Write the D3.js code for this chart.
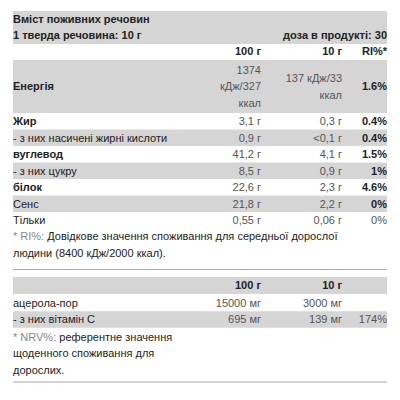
<!DOCTYPE html>
<html><head><meta charset="utf-8">
<script src="https://cdn.jsdelivr.net/npm/d3@7"></script>
<style>body{margin:0;background:#fff}text{font-family:"Liberation Sans",Arial,sans-serif;font-size:11px}</style>
</head><body><div id="chart"></div>
<script>
// Table 1 data
const labels = ["Енергія", "Жир", "- з них насичені жирні кислоти", "вуглевод", "- з них цукру", "білок", "Сенс", "Тільки"];
const per100 = [["1374", "кДж/327", "ккал"], ["3,1 г"], ["0,9 г"], ["41,2 г"], ["8,5 г"], ["22,6 г"], ["21,8 г"], ["0,55 г"]];
const per10 = [["137 кДж/33", "ккал"], ["0,3 г"], ["<0,1 г"], ["4,1 г"], ["0,9 г"], ["2,3 г"], ["2,2 г"], ["0,06 г"]];
const ri = ["1.6%", "0.4%", "0.4%", "1.5%", "1%", "4.6%", "0%", "0%"];
const boldRow = [true, true, false, true, false, true, false, false];
const boldRi = [true, true, true, true, true, true, true, false];

// Table 2 data
const labels2 = ["ацерола-пор", "- з них вітамін С"];
const per100b = ["15000 мг", "695 мг"];
const per10b = ["3000 мг", "139 мг"];
const nrv = ["", "174%"];

const svg = d3.select("#chart").append("svg").attr("width", 400).attr("height", 400);
const x0 = 13, x1 = 387, col100 = 261, col10 = 342;
const shade = "#d5d5d5", dark = "#222", grey = "#555";

function txt(x, y, s, opt = {}) {
    return svg.append("text").attr("x", x).attr("y", y).attr("dy", "0.35em")
        .attr("text-anchor", opt.anchor || "start")
        .attr("font-weight", opt.bold ? "bold" : "normal")
        .attr("fill", opt.fill || dark).text(s);
}

// header block
svg.append("rect").attr("x", x0).attr("y", 11).attr("width", x1 - x0).attr("height", 33).attr("fill", shade);
txt(x0, 19, "Вміст поживних речовин", { bold: true });
txt(x0, 35, "1 тверда речовина: 10 г", { bold: true });
txt(x1, 35, "доза в продукті: 30", { bold: true, anchor: "end" });
txt(col100, 51, "100 г", { bold: true, anchor: "end" });
txt(col10, 51, "10 г", { bold: true, anchor: "end" });
txt(x1, 51, "RI%*", { bold: true, anchor: "end" });

// row layout: energy row is tall, rest are 16.5px
const heights = labels.map((d, i) => per100[i].length > 1 ? 53 : 16.5);
let rowTop = 60;
const tops = heights.map(h => { const t = rowTop; rowTop += h; return t; });

labels.forEach((lab, i) => {
    const y = tops[i], h = heights[i], cy = y + h / 2;
    if (i % 2 === 0) svg.append("rect").attr("x", x0).attr("y", y).attr("width", x1 - x0).attr("height", h).attr("fill", shade);
    txt(x0, cy, lab, { bold: boldRow[i] });
    const lh = 16.5;
    per100[i].forEach((s, k) => txt(col100, cy + (k - (per100[i].length - 1) / 2) * lh, s, { anchor: "end", fill: grey }));
    per10[i].forEach((s, k) => txt(col10, cy + (k - (per10[i].length - 1) / 2) * lh, s, { anchor: "end", fill: grey }));
    txt(x1, cy, ri[i], { anchor: "end", bold: boldRi[i], fill: boldRi[i] ? dark : grey });
});

// footnote 1
const f1 = txt(x0, 236, "");
f1.append("tspan").attr("fill", "#888").text("* RI%: ");
f1.append("tspan").text("Довідкове значення споживання для середньої дорослої");
txt(x0, 253, "людини (8400 кДж/2000 ккал).");

svg.append("line").attr("x1", x0).attr("x2", x1).attr("y1", 269.5).attr("y2", 269.5).attr("stroke", "#aaa");

// table 2
svg.append("rect").attr("x", x0).attr("y", 277).attr("width", x1 - x0).attr("height", 17).attr("fill", shade);
txt(col100, 285, "100 г", { bold: true, anchor: "end" });
txt(col10, 285, "10 г", { bold: true, anchor: "end" });
labels2.forEach((lab, i) => {
    const cy = 303 + i * 16.5;
    if (i % 2 === 1) svg.append("rect").attr("x", x0).attr("y", cy - 8.25).attr("width", x1 - x0).attr("height", 16.5).attr("fill", shade);
    txt(x0, cy, lab);
    txt(col100, cy, per100b[i], { anchor: "end", fill: grey });
    txt(col10, cy, per10b[i], { anchor: "end", fill: grey });
    txt(x1, cy, nrv[i], { anchor: "end", fill: grey });
});

const f2 = txt(x0, 337, "");
f2.append("tspan").attr("fill", "#888").text("* NRV%: ");
f2.append("tspan").text("референтне значення");
txt(x0, 353, "щоденного споживання для");
txt(x0, 370, "дорослих.");
svg.append("line").attr("x1", x0).attr("x2", x1).attr("y1", 382).attr("y2", 382).attr("stroke", "#aaa");
</script></body></html>
